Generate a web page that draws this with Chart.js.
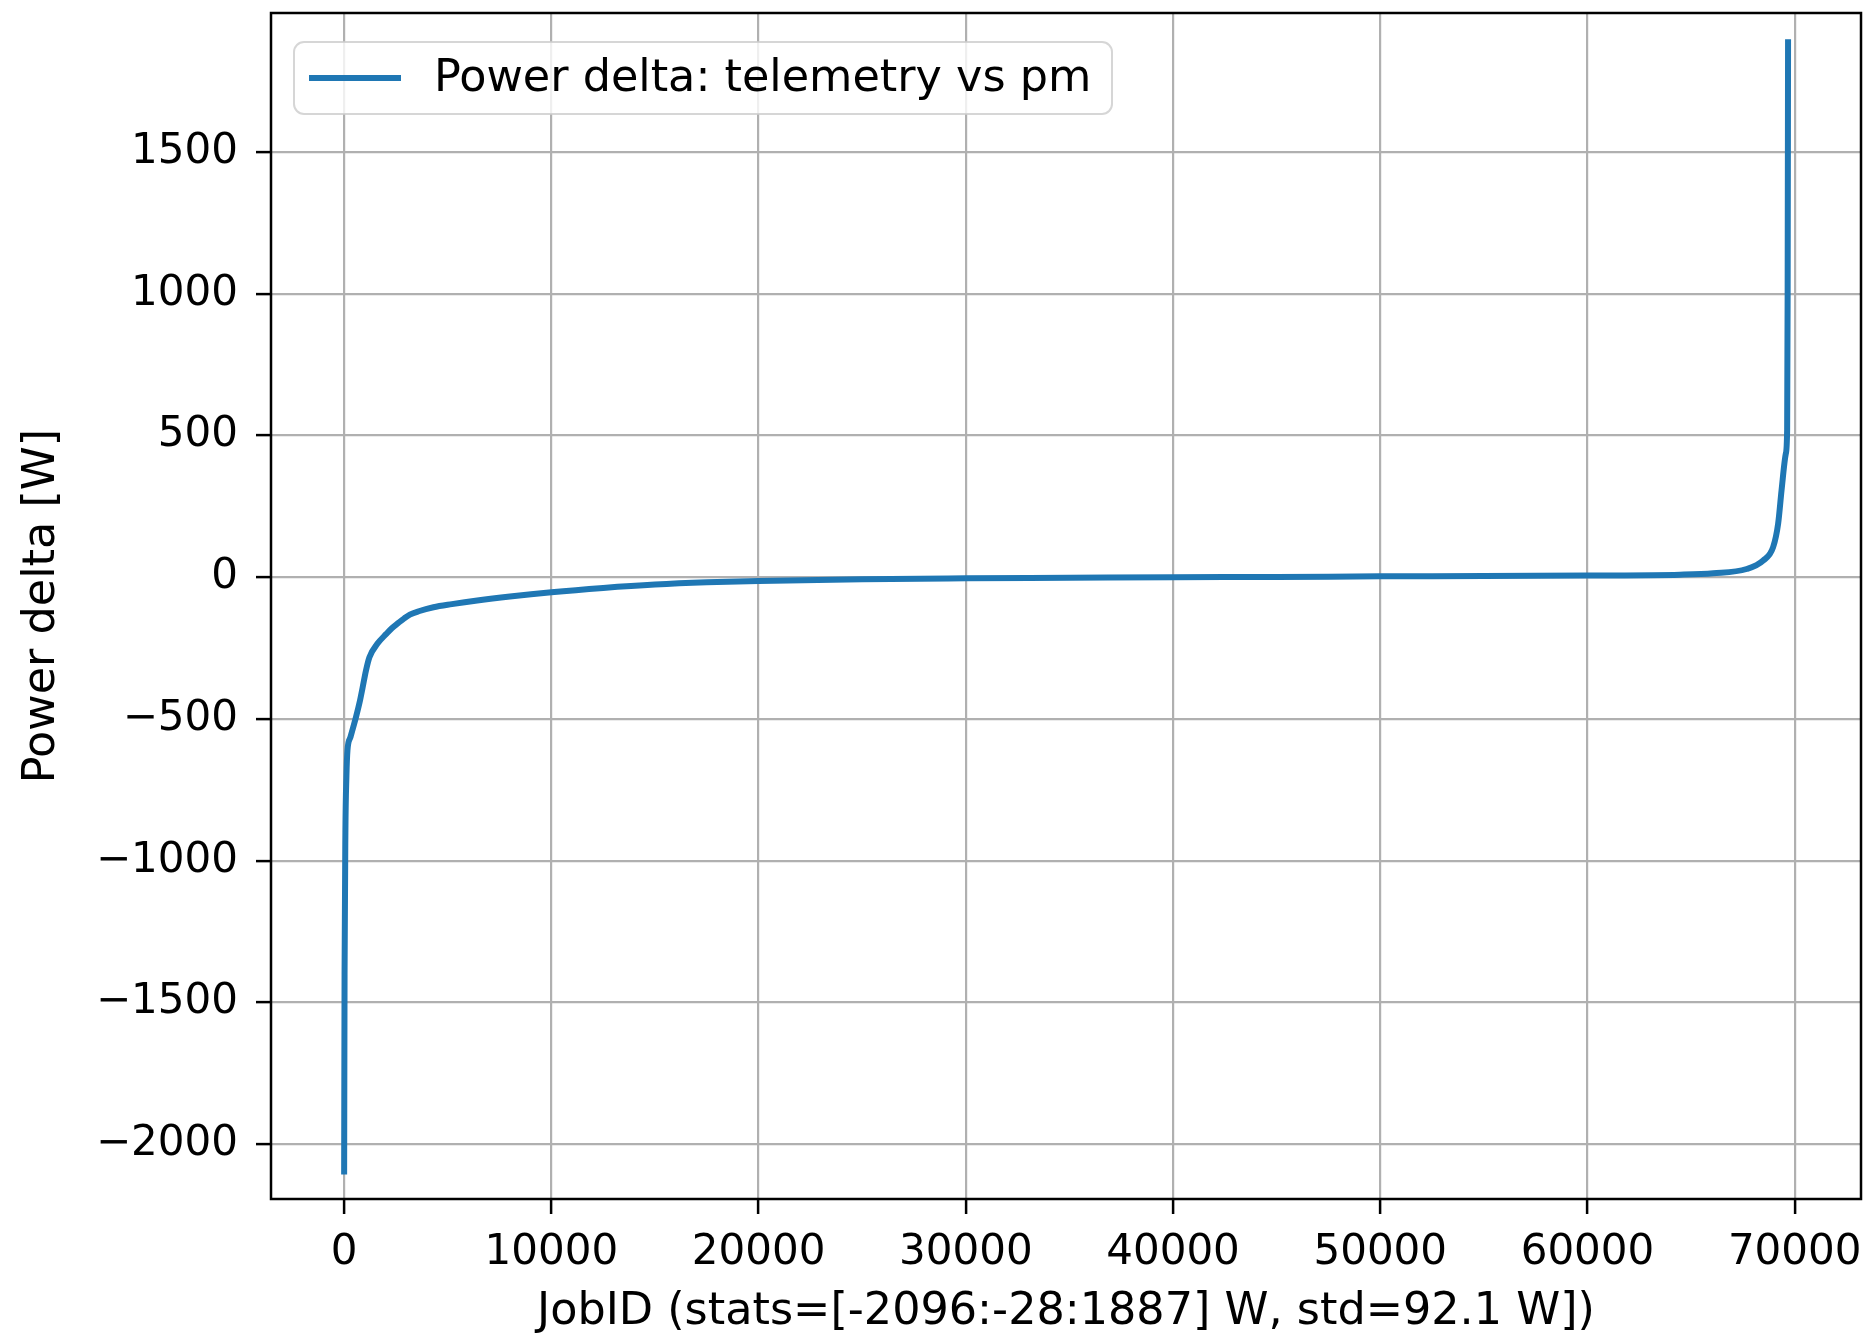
<!DOCTYPE html>
<html>
<head>
<meta charset="utf-8">
<title>Power delta: telemetry vs pm</title>
<script src="https://cdn.jsdelivr.net/npm/chart.js@4.4.1/dist/chart.umd.min.js"></script>
<style>
  html, body { margin: 0; padding: 0; background: #ffffff; }
  #wrap { width: 1864px; height: 1335px; }
</style>
</head>
<body>
<div id="wrap"><canvas id="deltaChart" width="1864" height="1335"></canvas></div>
<script>
// sorted job index and power delta (W)
const jobIndex = [
  0, 20, 60, 110, 160, 300, 569, 750, 894, 1050, 1220, 1600, 2033, 2300,
  2600, 2900, 3171, 3600, 4309, 5200, 6423, 8000, 10000, 12500, 15000,
  17500, 20000, 25000, 30000, 35000, 40000, 45000, 50000, 55000, 60000,
  64460, 66070, 67680, 68480, 68960, 69200, 69365, 69570, 69636, 69660, 69680
];
const powerDelta = [
  -2096, -1400, -900, -700, -610, -565, -494, -440, -388, -330, -282, -235,
  -200, -180, -162, -145, -132, -120, -106, -95, -82, -68, -53, -38, -26,
  -18, -13, -7, -4, -2, 0, 1, 3, 4, 6,
  9, 14, 29, 59, 106, 188, 306, 435, 520, 1000, 1887
];
const xTickValues = [0, 10000, 20000, 30000, 40000, 50000, 60000, 70000];
const yTickValues = [-2000, -1500, -1000, -500, 0, 500, 1000, 1500];

const seriesLabel = "Power delta: telemetry vs pm";
const xTitle = "JobID (stats=[-2096:-28:1887] W, std=92.1 W])";
const yTitle = "Power delta [W]";

const FONT = "'DejaVu Sans', 'Liberation Sans', sans-serif";
const LINE_BLUE = "#1f77b4";

// frame around the plot area, like matplotlib spines
const frameBox = {
  id: "frameBox",
  afterDatasetsDraw(chart) {
    const { ctx, chartArea: a } = chart;
    ctx.save();
    ctx.strokeStyle = "#000000";
    ctx.lineWidth = 2.5;
    ctx.strokeRect(a.left, a.top, a.right - a.left, a.bottom - a.top);
    ctx.restore();
  },
};

// legend box in the upper left corner of the axes
const cornerLegend = {
  id: "cornerLegend",
  afterDraw(chart) {
    const { ctx, chartArea: a } = chart;
    const ds = chart.data.datasets[0];
    const x0 = a.left + 23, y0 = a.top + 29, w = 818, h = 72, r = 10;
    ctx.save();
    ctx.beginPath();
    ctx.roundRect(x0, y0, w, h, r);
    ctx.fillStyle = "rgba(255,255,255,0.8)";
    ctx.fill();
    ctx.strokeStyle = "rgba(204,204,204,0.8)";
    ctx.lineWidth = 2;
    ctx.stroke();

    const cy = y0 + h / 2;
    ctx.beginPath();
    ctx.moveTo(x0 + 15, cy);
    ctx.lineTo(x0 + 107, cy);
    ctx.strokeStyle = ds.borderColor;
    ctx.lineWidth = ds.borderWidth;
    ctx.stroke();

    ctx.fillStyle = "#000000";
    ctx.font = "44.5px " + FONT;
    ctx.textAlign = "left";
    ctx.textBaseline = "middle";
    ctx.fillText(ds.label, x0 + 140, cy + 1);
    ctx.restore();
  },
};

const minusSign = (v) => (v < 0 ? "\u2212" + Math.abs(v) : String(v));

// fixed axis boxes so the plot area lands where the reference has it
const fixBox = (size) => (axis) => {
  if (axis.isHorizontal()) axis.height = size;
  else axis.width = size;
  axis.paddingTop = 0;
  axis.paddingBottom = 0;
  axis.paddingLeft = 0;
  axis.paddingRight = 0;
};

const ctx = document.getElementById("deltaChart").getContext("2d");

const chart = new Chart(ctx, {
  type: "line",
  data: {
    datasets: [
      {
        label: seriesLabel,
        data: jobIndex.map((x, i) => ({ x: x, y: powerDelta[i] })),
        borderColor: LINE_BLUE,
        backgroundColor: LINE_BLUE,
        borderWidth: 6,
        borderCapStyle: "square",
        pointRadius: 0,
        fill: false,
        cubicInterpolationMode: "monotone",
      },
    ],
  },
  options: {
    responsive: false,
    animation: false,
    layout: { padding: { left: 0, top: 13, right: 3, bottom: 0 } },
    plugins: {
      legend: { display: false },
      tooltip: { enabled: false },
    },
    scales: {
      x: {
        type: "linear",
        min: -3530,
        max: 73200,
        afterBuildTicks: (axis) => {
          axis.ticks = xTickValues.map((v) => ({ value: v }));
        },
        afterFit: fixBox(136),
        grid: {
          color: "#b0b0b0",
          lineWidth: 2.2,
          drawTicks: true,
          tickLength: 15,
          tickColor: "#000000",
          tickWidth: 2.5,
        },
        border: { display: false },
        ticks: {
          color: "#000000",
          font: { family: FONT, size: 42 },
          padding: 14,
          maxRotation: 0,
          autoSkip: false,
          callback: (v) => minusSign(v),
        },
        title: {
          display: true,
          text: xTitle,
          color: "#000000",
          font: { family: FONT, size: 44.5, lineHeight: 1 },
          padding: { top: 0, bottom: 0 },
        },
      },
      y: {
        type: "linear",
        min: -2193,
        max: 1990,
        afterBuildTicks: (axis) => {
          axis.ticks = yTickValues.map((v) => ({ value: v }));
        },
        afterFit: fixBox(271),
        grid: {
          color: "#b0b0b0",
          lineWidth: 2.2,
          drawTicks: true,
          tickLength: 15,
          tickColor: "#000000",
          tickWidth: 2.5,
        },
        border: { display: false },
        ticks: {
          color: "#000000",
          font: { family: FONT, size: 42 },
          padding: 18,
          autoSkip: false,
          callback: (v) => minusSign(v),
        },
        title: {
          display: true,
          text: yTitle,
          color: "#000000",
          font: { family: FONT, size: 44.5, lineHeight: 1 },
          padding: { top: 20, bottom: 0 },
        },
      },
    },
  },
  plugins: [frameBox, cornerLegend],
});
</script>
</body>
</html>
